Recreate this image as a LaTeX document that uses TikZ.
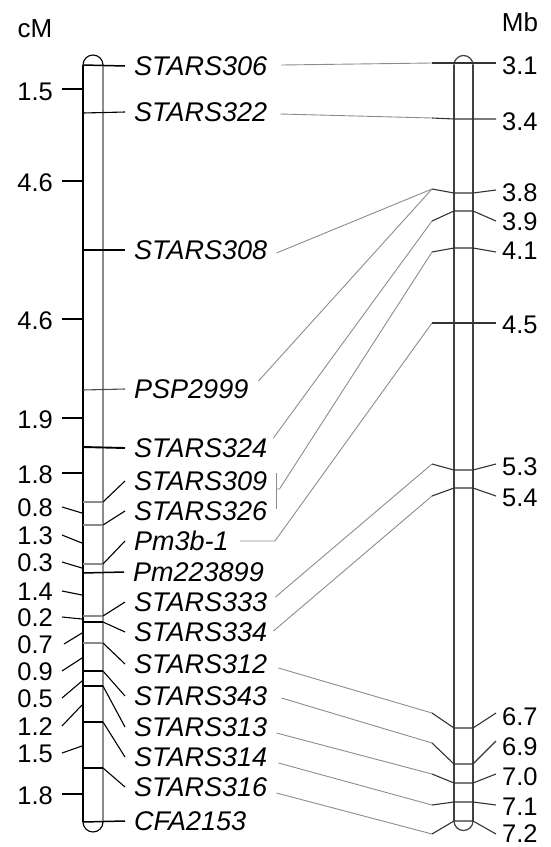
\documentclass[tikz,border=0pt]{standalone}
\usepackage{fontspec}
\setmainfont{Liberation Sans}
\begin{document}
\begin{tikzpicture}[x=1pt,y=-1pt,
  lbl/.style={font=\fontsize{27}{30}\selectfont\itshape, inner sep=0pt, anchor=west, text height=19pt, text depth=0pt},
  num/.style={font=\fontsize{25.5}{28}\selectfont, inner sep=0pt, text height=18.3pt, text depth=0pt},
  head/.style={font=\fontsize{26}{28}\selectfont, inner sep=0pt, text height=18pt, text depth=0pt},
  conn/.style={draw=black!45, line width=0.9pt},
  tick/.style={draw=black, line width=1.1pt},
  mkb/.style={draw=black, line width=1.5pt},
  mkg/.style={draw=black!45, line width=1.3pt},
  rc/.style={draw=black!75, line width=1.2pt},
  rmk/.style={draw=black!80, line width=1.1pt, line join=round}]
\useasboundingbox (0,0) rectangle (551,847);

% headers
\node[head] (cm) at (35,28) {cM};
\node[head] (mb) at (520,22) {Mb};

% ---------- left chromosome ----------
\draw[line width=2.4pt] (83,65) -- (83,822);
\draw[black!45, line width=1.6pt] (103,65) -- (103,822);
\draw[line width=1.1pt] (83,65) arc[start angle=180,end angle=0,radius=10pt];
\draw[line width=1.1pt] (83,822) arc[start angle=180,end angle=360,radius=10pt];

% marker labels
\node[lbl] (m306) at (134,66) {STARS306};
\node[lbl] (m322) at (134,112) {STARS322};
\node[lbl] (m308) at (134,250) {STARS308};
\node[lbl] (psp) at (134,389) {PSP2999};
\node[lbl] (m324) at (134,448) {STARS324};
\node[lbl] (m309) at (134,481) {STARS309};
\node[lbl] (m326) at (134,511) {STARS326};
\node[lbl] (pm3b) at (134,541) {Pm3b-1};
\node[lbl] (pm22) at (133,572) {Pm223899};
\node[lbl] (m333) at (134,602) {STARS333};
\node[lbl] (m334) at (134,632) {STARS334};
\node[lbl] (m312) at (134,664) {STARS312};
\node[lbl] (m343) at (134,696) {STARS343};
\node[lbl] (m313) at (134,727) {STARS313};
\node[lbl] (m314) at (134,757) {STARS314};
\node[lbl] (m316) at (134,787) {STARS316};
\node[lbl] (cfa) at (134,821) {CFA2153};

% horizontal markers on left chromosome
\draw[mkb] (83,65) -- ([xshift=-9pt]m306.west);
\draw[tick] (83,113) -- ([xshift=-9pt]m322.west);
\draw[mkb] (83,250) -- ([xshift=-9pt]m308.west);
\draw[draw=black!70, line width=1.1pt] (83,390) -- ([xshift=-9pt]psp.west);
\draw[mkb, line width=1.9pt] (83,447) -- ([xshift=-9pt]m324.west);
\draw[mkb] (83,573) -- ([xshift=-9pt]pm22.west);
\draw[mkb] (83,822) -- ([xshift=-9pt]cfa.west);

% markers inside chromosome + diagonal leaders
\draw[mkg] (83,502) -- (103,502);
\draw[mkg] (83,525) -- (103,525);
\draw[mkg] (83,564) -- (103,564);
\draw[mkg] (83,616) -- (103,616);
\draw[mkb] (83,622) -- (103,622);
\draw[mkg] (83,643) -- (103,643);
\draw[mkb] (83,671) -- (103,671);
\draw[mkb] (83,686) -- (103,686);
\draw[mkb] (83,722) -- (103,722);
\draw[mkb] (83,768) -- (103,768);

\draw[tick] (103,502) -- ([xshift=-9pt]m309.west);
\draw[tick] (103,525) -- ([xshift=-9pt]m326.west);
\draw[tick] (103,564) -- ([xshift=-9pt]pm3b.west);
\draw[tick] (103,616) -- ([xshift=-9pt]m333.west);
\draw[tick] (103,622) -- ([xshift=-9pt]m334.west);
\draw[tick] (103,643) -- ([xshift=-9pt]m312.west);
\draw[tick] (103,671) -- ([xshift=-9pt]m343.west);
\draw[tick] (103,686) -- ([xshift=-9pt]m313.west);
\draw[tick] (103,722) -- ([xshift=-9pt]m314.west);
\draw[tick] (103,768) -- ([xshift=-9pt]m316.west);

% cM intervals
\node[num, anchor=east] (n1) at (53,91) {1.5};
\node[num, anchor=east] (n2) at (53,182) {4.6};
\node[num, anchor=east] (n3) at (53,320) {4.6};
\node[num, anchor=east] (n4) at (53,419) {1.9};
\node[num, anchor=east] (n5) at (53,474) {1.8};
\node[num, anchor=east] (n6) at (53,507) {0.8};
\node[num, anchor=east] (n7) at (53,535) {1.3};
\node[num, anchor=east] (n8) at (53,562) {0.3};
\node[num, anchor=east] (n9) at (53,591) {1.4};
\node[num, anchor=east] (n10) at (53,617) {0.2};
\node[num, anchor=east] (n11) at (53,644) {0.7};
\node[num, anchor=east] (n12) at (53,671) {0.9};
\node[num, anchor=east] (n13) at (53,698) {0.5};
\node[num, anchor=east] (n14) at (53,726) {1.2};
\node[num, anchor=east] (n15) at (53,753) {1.5};
\node[num, anchor=east] (n16) at (53,795) {1.8};

\draw[tick] ([shift={(9,-2)}]n1.east) -- +(21,0);
\draw[tick] ([shift={(9,-1)}]n2.east) -- +(21,0);
\draw[tick] ([shift={(9,-1)}]n3.east) -- +(21,0);
\draw[tick] ([shift={(9,-1)}]n4.east) -- +(21,0);
\draw[tick] ([shift={(9,-1)}]n5.east) -- +(21,0);
\draw[tick] ([xshift=9pt]n6.east) -- (82,513);
\draw[tick] ([xshift=9pt]n7.east) -- (82,543);
\draw[tick] ([xshift=9pt]n8.east) -- (82,568);
\draw[tick] ([xshift=9pt]n9.east) -- (82,595);
\draw[tick] ([xshift=9pt]n10.east) -- (82,619);
\draw[tick] ([xshift=11pt]n11.east) -- (82,633);
\draw[tick] ([xshift=9pt]n12.east) -- (82,658);
\draw[tick] ([xshift=9pt]n13.east) -- (82,681);
\draw[tick] ([xshift=9pt]n14.east) -- (82,705);
\draw[tick] ([xshift=9pt]n15.east) -- (82,746);
\draw[tick] ([shift={(9,-1)}]n16.east) -- +(21,0);

% ---------- right chromosome ----------
\draw[rc] (454,65) -- (454,821);
\draw[rc] (473,65) -- (473,821);
\draw[rc] (454,65) arc[start angle=180,end angle=0,radius=9.5pt];
\draw[rc] (454,821) arc[start angle=180,end angle=360,radius=9.5pt];

% left free ends of the physical markers
\coordinate (pL31) at (432,63);
\coordinate (pL34) at (432,118);
\coordinate (pL38) at (432,189);
\coordinate (pL39) at (432,221);
\coordinate (pL41) at (432,252);
\coordinate (pL45) at (432,323);
\coordinate (pL53) at (432,464);
\coordinate (pL54) at (432,496);
\coordinate (pL67) at (432,713);
\coordinate (pL69) at (432,743);
\coordinate (pL70) at (432,774);
\coordinate (pL71) at (432,805);
\coordinate (pL72) at (432,834);

% Mb labels
\node[num, anchor=west] (r31) at (502,65) {3.1};
\node[num, anchor=west] (r34) at (502,121) {3.4};
\node[num, anchor=west] (r38) at (502,192) {3.8};
\node[num, anchor=west] (r39) at (502,221) {3.9};
\node[num, anchor=west] (r41) at (502,250) {4.1};
\node[num, anchor=west] (r45) at (502,324) {4.5};
\node[num, anchor=west] (r53) at (502,466) {5.3};
\node[num, anchor=west] (r54) at (502,497) {5.4};
\node[num, anchor=west] (r67) at (502,716) {6.7};
\node[num, anchor=west] (r69) at (502,746) {6.9};
\node[num, anchor=west] (r70) at (502,776) {7.0};
\node[num, anchor=west] (r71) at (502,806) {7.1};
\node[num, anchor=west] (r72) at (502,833) {7.2};

% physical markers across right chromosome
\draw[rmk] (pL31) -- (496,63);
\draw[rmk] (pL34) -- (454,119) -- (496,119);
\draw[rmk] (pL38) -- (454,193) -- (473,193) -- (496,190);
\draw[rmk] (pL39) -- (454,211) -- (473,211) -- (496,221);
\draw[rmk] (pL41) -- (454,248) -- (473,248) -- (496,252);
\draw[rmk] (pL45) -- (496,323);
\draw[rmk] (pL53) -- (454,470) -- (473,470) -- (496,464);
\draw[rmk] (pL54) -- (454,488) -- (473,488) -- (496,496);
\draw[rmk] (pL67) -- (454,728) -- (473,728) -- (496,713);
\draw[rmk] (pL69) -- (454,764) -- (473,764) -- (496,741);
\draw[rmk] (pL70) -- (454,783) -- (473,783) -- (496,774);
\draw[rmk] (pL71) -- (454,802) -- (473,802) -- (496,805);
\draw[rmk] (pL72) -- (454,821) -- (473,821) -- (496,834);

% ---------- connectors genetic -> physical ----------
\draw[conn] ([shift={(14,-1)}]m306.east) -- (pL31);
\draw[conn] ([shift={(13,2)}]m322.east) -- (pL34);
\draw[conn] ([shift={(9,3)}]m308.east) -- (pL38);
\draw[conn] ([shift={(10,-8)}]psp.east) -- (pL38);
\draw[conn] ([shift={(6,-10)}]m324.east) -- (pL39);
\draw[conn] ([shift={(9,-8)}]m309.east) -- ([shift={(9,-2)}]m326.east);
\draw[conn] ([shift={(9,8)}]m309.east) -- ++(3,0) -- (pL41);
\draw[conn] ([shift={(11,0)}]pm3b.east) -- ++(35,0) -- (pL45);
\draw[conn] ([shift={(8,-5)}]m333.east) -- (pL53);
\draw[conn] ([shift={(6,-1)}]m334.east) -- (pL54);
\draw[conn] ([shift={(11,4)}]m312.east) -- (pL67);
\draw[conn] ([shift={(14,2)}]m343.east) -- (pL69);
\draw[conn] ([shift={(9,6)}]m313.east) -- (pL70);
\draw[conn] ([shift={(11,6)}]m314.east) -- (pL71);
\draw[conn] ([shift={(9,6)}]m316.east) -- (pL72);
\end{tikzpicture}
\end{document}
